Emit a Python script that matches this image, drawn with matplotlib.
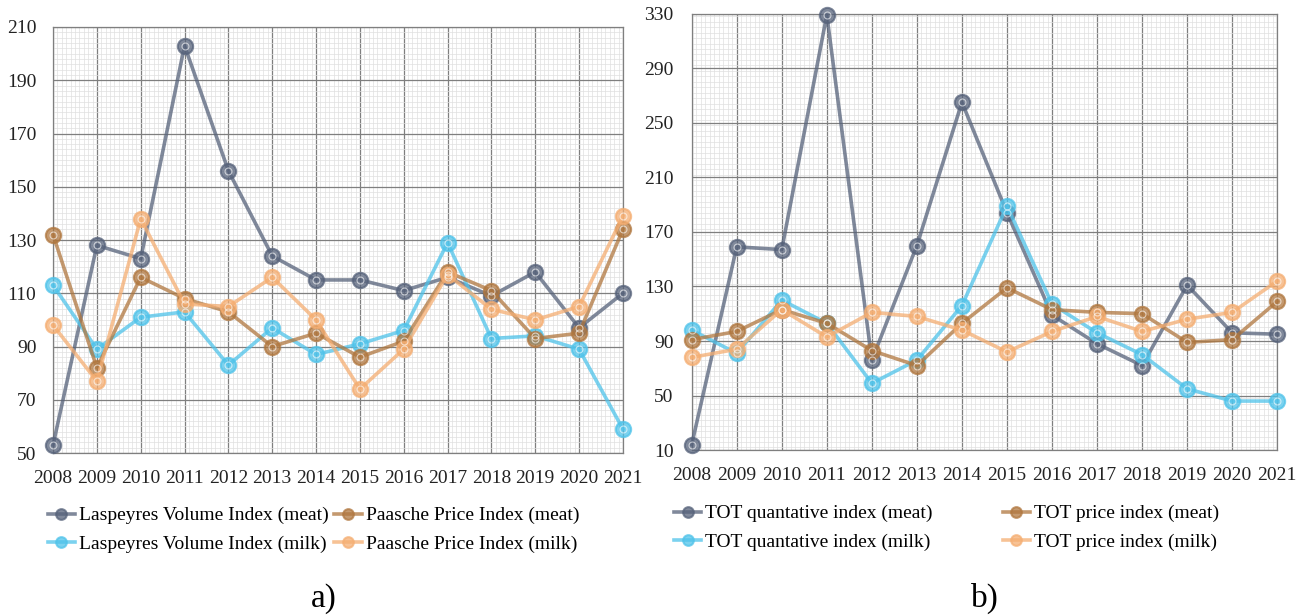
import matplotlib
matplotlib.use("Agg")
import matplotlib.pyplot as plt
from matplotlib.ticker import MultipleLocator

plt.rcParams["font.family"] = ["Liberation Serif", "DejaVu Serif"]

years = list(range(2008, 2022))

# ── panel a) ────────────────────────────────────────────────────────────────
lasp_meat = [53, 128, 123, 203, 156, 124, 115, 115, 111, 116, 109, 118, 97, 110]
paas_meat = [132, 82, 116, 108, 103, 90, 95, 86, 92, 118, 111, 93, 95, 134]
lasp_milk = [113, 89, 101, 103, 83, 97, 87, 91, 96, 129, 93, 94, 89, 59]
paas_milk = [98, 77, 138, 106, 105, 116, 100, 74, 89, 117, 104, 100, 105, 139]

# ── panel b) ────────────────────────────────────────────────────────────────
tot_q_meat = [14, 159, 157, 329, 76, 160, 265, 184, 109, 88, 72, 131, 96, 95]
tot_p_meat = [91, 97, 113, 103, 83, 72, 103, 129, 113, 111, 110, 89, 91, 119]
tot_q_milk = [98, 81, 120, 103, 59, 76, 116, 189, 117, 96, 80, 55, 46, 46]
tot_p_milk = [78, 84, 113, 93, 111, 108, 98, 82, 97, 108, 97, 106, 111, 134]

C_DARK = "#56627a"
C_BROWN = "#b0773f"
C_BLUE = "#4fc3ea"
C_ORANGE = "#f5ae72"


def draw(ax, series, ylim, ystep, ypad):
    for vals, col, lab in series:
        ax.plot(years, vals, color=col, lw=2.6, alpha=0.75, clip_on=False,
                marker="o", ms=11, mfc=col, mec=col, mew=1.5, label=lab,
                zorder=3)
        ax.plot(years, vals, ls="none", marker="o", ms=5, mfc="none",
                mec="white", mew=0.8, alpha=0.6, clip_on=False, zorder=4)
    ax.set_xlim(2008, 2021)
    ax.set_ylim(*ylim)
    ax.set_xticks(years)
    ax.set_yticks(range(ylim[0], ylim[1] + 1, ystep))
    ax.xaxis.set_minor_locator(MultipleLocator(0.1))
    ax.yaxis.set_minor_locator(MultipleLocator(ystep / 10))
    ax.grid(True, which="major", color="#7f7f7f", lw=0.9)
    ax.grid(True, which="minor", color="#e0e0e0", lw=0.5)
    ax.set_axisbelow(True)
    ax.tick_params(which="both", length=0, labelsize=14, colors="#222222")
    ax.tick_params(axis="x", pad=12)
    ax.tick_params(axis="y", pad=ypad)
    for s in ax.spines.values():
        s.set_color("#7f7f7f")
        s.set_linewidth(0.9)


fig = plt.figure(figsize=(13.1, 6.15), dpi=100)

ax1 = fig.add_axes([0.0405, 0.2634, 0.435, 0.6927])
draw(ax1, [
    (lasp_meat, C_DARK, "Laspeyres Volume Index (meat)"),
    (lasp_milk, C_BLUE, "Laspeyres Volume Index (milk)"),
    (paas_meat, C_BROWN, "Paasche Price Index (meat)"),
    (paas_milk, C_ORANGE, "Paasche Price Index (milk)"),
], (50, 210), 20, 12)
ax1.legend(ncol=2, loc="upper left", bbox_to_anchor=(-0.04, -0.085),
           frameon=False, fontsize=14, handlelength=1.4, handletextpad=0.2,
           columnspacing=0.3, labelspacing=0.55, markerscale=0.7)

ax2 = fig.add_axes([0.528, 0.268, 0.447, 0.71])
draw(ax2, [
    (tot_q_meat, C_DARK, "TOT quantative index (meat)"),
    (tot_q_milk, C_BLUE, "TOT quantative index (milk)"),
    (tot_p_meat, C_BROWN, "TOT price index (meat)"),
    (tot_p_milk, C_ORANGE, "TOT price index (milk)"),
], (10, 330), 40, 13)
ax2.legend(ncol=2, loc="upper left", bbox_to_anchor=(-0.06, -0.085),
           frameon=False, fontsize=14, handlelength=1.4, handletextpad=0.2,
           columnspacing=3.6, labelspacing=0.55, markerscale=0.7)

fig.text(0.247, 0.013, "a)", fontsize=24, ha="center", va="baseline")
fig.text(0.752, 0.013, "b)", fontsize=24, ha="center", va="baseline")

fig.savefig("out.png", dpi=100)
